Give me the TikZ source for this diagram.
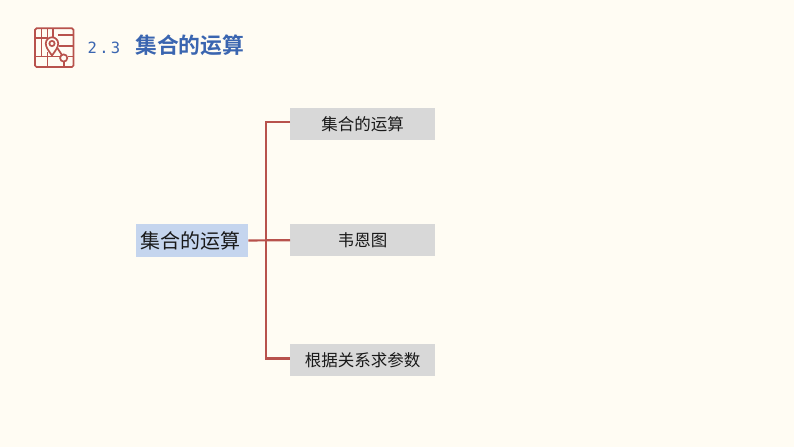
\documentclass[tikz,border=0pt]{standalone}
\usepackage{fontspec}
\newfontfamily\cjk{Noto Sans CJK SC}
\newfontfamily\cjkb{Noto Sans CJK SC Bold}
\newfontfamily\numf[LetterSpace=15]{DejaVu Sans Mono}
\definecolor{bg}{HTML}{FFFCF3}
\definecolor{redl}{HTML}{B8524C}
\definecolor{blue1}{HTML}{3A65B0}
\definecolor{rootc}{HTML}{C5D5EE}
\definecolor{childc}{HTML}{D8D8D8}
\tikzset{
 x=1pt,y=-1pt,
 rootbox/.style={fill=rootc,inner sep=0,minimum width=112pt,minimum height=32.5pt,font=\fontsize{20}{22}\cjk,text=black!90},
 childbox/.style={fill=childc,inner sep=0,minimum width=145pt,minimum height=32pt,font=\fontsize{16.5}{18}\cjk,text=black!90},
 conn/.style={draw=redl,line width=2.2pt},
 ico/.style={draw=redl,line width=1.7pt},
}
\begin{document}
\begin{tikzpicture}
\useasboundingbox (0,0) rectangle (794,447);
\fill[bg] (0,0) rectangle (794,447);
% icon
\draw[ico,rounded corners=1.5pt] (35,28.3) rectangle (73.5,67);
\draw[ico] (41.5,28.3)--(41.5,56.5) (47.5,28.3)--(47.5,40) (47.5,52)--(47.5,67)
 (35,38)--(47,38) (35,56.5)--(60,56.5) (67.5,56.5)--(73.5,56.5)
 (53,28.3)--(53,37) (58,35)--(73.5,35) (59,46)--(73.5,46) (63.7,61.5)--(63.7,67);
\draw[ico,fill=bg] (52,55.5) .. controls (48,50) and (45.8,47) .. (45.8,43.5) arc[start angle=180,end angle=0,radius=6.2pt] .. controls (58.2,47) and (56,50) .. (52,55.5) -- cycle;
\draw[ico] (52,43.5) circle[radius=2.6pt];
\draw[ico] (57,47.5)--(62,55);
\draw[ico,fill=bg] (63.7,58) circle[radius=3.6pt];
% title
\node[anchor=west,inner sep=0,text=blue1,font=\fontsize{15.5}{18}\numf] (num) at (87.5,47.5) {2.3};
\node[anchor=west,inner sep=0,text=blue1,font=\fontsize{21.8}{24}\cjkb] (title) at (135,45.5) {集合的运算};
% nodes
\node[rootbox,anchor=north west] (root) at (136,224) {集合的运算\kern4pt};
\node[childbox,anchor=north west] (c1) at (290,108) {集合的运算};
\node[childbox,anchor=north west] (c2) at (290,224) {韦恩图};
\node[childbox,anchor=north west] (c3) at (290,344) {根据关系求参数};
\coordinate (sp) at (266,240);
% connectors
\draw[conn] (root.east) -- (c2.west);
\draw[conn] ([yshift=2pt]c1.west) -| (sp) |- ([yshift=1.7pt]c3.west);
\end{tikzpicture}
\end{document}
